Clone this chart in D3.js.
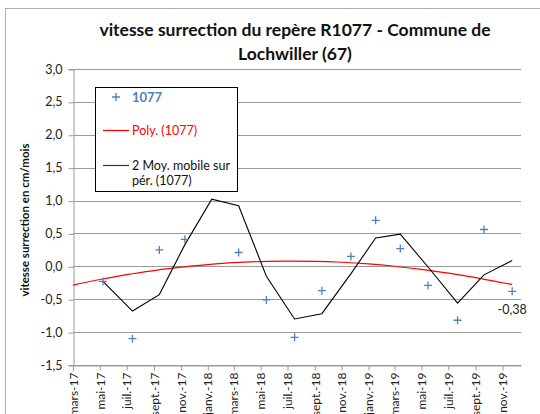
<!DOCTYPE html>
<html>
<head>
<meta charset="utf-8">
<script src="https://cdn.jsdelivr.net/npm/d3@7"></script>
<style>
  body { margin: 0; background: #fff; }
  text { font-family: Lato, "Open Sans", sans-serif; }
</style>
</head>
<body>
<script>
// dates of the survey points and their speed (cm/mois)
const pointDates = ["2017-05-08","2017-07-14","2017-09-13","2017-11-10","2018-01-10","2018-03-12","2018-05-14","2018-07-17",
  "2018-09-17","2018-11-22","2019-01-17","2019-03-14","2019-05-16","2019-07-22","2019-09-20","2019-11-23"];
const pointValues = [-0.23,-1.10,0.25,0.41,1.63,0.21,-0.51,-1.08,-0.37,0.15,0.70,0.27,-0.29,-0.82,0.56,-0.38];

// 2 periods moving average
const movingAvg = [-0.23,-0.68,-0.43,0.33,1.02,0.92,-0.15,-0.80,-0.72,-0.11,0.43,0.49,-0.01,-0.56,-0.13,0.09];

// polynomial trendline, read at each tick date
const polyDates = ["2017-03-01","2017-05-01","2017-07-01","2017-09-01","2017-11-01","2018-01-01","2018-03-01","2018-05-01",
  "2018-07-01","2018-09-01","2018-11-01","2019-01-01","2019-03-01","2019-05-01","2019-07-01","2019-09-01","2019-11-01","2019-11-23"];
const polyValues = [-0.285,-0.20,-0.125,-0.064,-0.013,0.026,0.056,0.073,0.08,0.076,0.062,0.037,0.001,-0.047,-0.104,-0.173,-0.25,-0.275];

const xTickDates = ["2017-03-01","2017-05-01","2017-07-01","2017-09-01","2017-11-01","2018-01-01","2018-03-01","2018-05-01",
  "2018-07-01","2018-09-01","2018-11-01","2019-01-01","2019-03-01","2019-05-01","2019-07-01","2019-09-01","2019-11-01"];
const xTickLabels = ["mars-17","mai-17","juil.-17","sept.-17","nov.-17","janv.-18","mars-18","mai-18",
  "juil.-18","sept.-18","nov.-18","janv.-19","mars-19","mai-19","juil.-19","sept.-19","nov.-19"];
const yTicks = [-1.5,-1.0,-0.5,0.0,0.5,1.0,1.5,2.0,2.5,3.0];

const parse = d3.timeParse("%Y-%m-%d");
const width = 540, height = 414;

let svg = d3.select("body").append("svg")
    .attr("width", width)
    .attr("height", height);

// chart area border
svg.append("rect")
    .attr("x", 5.5).attr("y", 8.5)
    .attr("width", 600).attr("height", 500)
    .attr("fill", "#fff").attr("stroke", "#b0b0b0");

const x = d3.scaleTime()
    .domain([parse("2017-03-01"), parse("2019-12-13")])
    .range([73, 521]);
const y = d3.scaleLinear()
    .domain([-1.5, 3])
    .range([365, 69]);

// french decimal comma, plain hyphen for the minus
const frFormat = d3.formatLocale({ decimal: ",", thousands: " ", grouping: [3], currency: ["", " €"], minus: "-" });
const fmt = frFormat.format(".1f");
const fmt2 = frFormat.format(".2f");

// gridlines
svg.append("g")
    .selectAll("line")
    .data(yTicks)
    .enter()
    .append("line")
        .attr("x1", 73).attr("x2", 521)
        .attr("y1", d => Math.round(y(d)) + 0.5)
        .attr("y2", d => Math.round(y(d)) + 0.5)
        .attr("stroke", "#9a9a9a");

// y axis
let yAxis = svg.append("g")
    .attr("transform", "translate(73.5,0)")
    .call(d3.axisLeft(y).tickValues(yTicks).tickFormat(fmt).tickSize(5).tickPadding(6));
yAxis.select(".domain").attr("stroke", "#9a9a9a");
yAxis.selectAll(".tick line").attr("stroke", "#9a9a9a")
    .attr("transform", "translate(0,0.5)");
yAxis.selectAll(".tick text").attr("font-size", 12.5).attr("fill", "#222");

// x axis
let xAxis = svg.append("g")
    .attr("transform", "translate(0,365.5)")
    .call(d3.axisBottom(x).tickValues(xTickDates.map(parse))
        .tickFormat((d, i) => xTickLabels[i]).tickSize(5).tickSizeOuter(0));
xAxis.select(".domain").attr("stroke", "#9a9a9a");
xAxis.selectAll(".tick line").attr("stroke", "#9a9a9a");
xAxis.selectAll(".tick text")
    .attr("font-size", 12).attr("fill", "#222")
    .attr("text-anchor", "end")
    .attr("transform", "rotate(-90)")
    .attr("x", -7).attr("y", 0).attr("dy", "0.35em");

// polynomial trendline
svg.append("path")
    .datum(polyDates.map((d, i) => [parse(d), polyValues[i]]))
    .attr("fill", "none")
    .attr("stroke", "#ff0000")
    .attr("stroke-width", 1.2)
    .attr("d", d3.line().x(d => x(d[0])).y(d => y(d[1])).curve(d3.curveMonotoneX));

// moving average
svg.append("path")
    .datum(pointDates.map((d, i) => [parse(d), movingAvg[i]]))
    .attr("fill", "none")
    .attr("stroke", "#000")
    .attr("stroke-width", 1.1)
    .attr("d", d3.line().x(d => x(d[0])).y(d => y(d[1])));

// plus markers
const plus = "M-4,0H4M0,-4V4";
svg.append("g")
    .selectAll("path")
    .data(pointDates.map((d, i) => [parse(d), pointValues[i]]))
    .enter()
    .append("path")
        .attr("transform", d => "translate(" + x(d[0]) + "," + y(d[1]) + ")")
        .attr("d", plus)
        .attr("stroke", "#4f81bd")
        .attr("stroke-width", 1.3)
        .attr("fill", "none");

// label on the last point
let last = pointValues.length - 1;
svg.append("text")
    .attr("x", x(parse(pointDates[last])))
    .attr("y", y(pointValues[last]) + 23)
    .attr("text-anchor", "middle")
    .attr("font-size", 12.5)
    .attr("fill", "#222")
    .text(fmt2(pointValues[last]));

// legend
let lg = svg.append("g");
lg.append("rect")
    .attr("x", 95.5).attr("y", 87.5)
    .attr("width", 142).attr("height", 104)
    .attr("fill", "#fff").attr("stroke", "#000");
lg.append("path")
    .attr("transform", "translate(116,97)")
    .attr("d", plus)
    .attr("stroke", "#4f81bd").attr("stroke-width", 1.3);
lg.append("text")
    .attr("x", 132).attr("y", 101.5)
    .attr("font-size", 13).attr("font-weight", "bold").attr("fill", "#4f81bd")
    .text("1077");
lg.append("line")
    .attr("x1", 103).attr("x2", 129).attr("y1", 130.5).attr("y2", 130.5)
    .attr("stroke", "#ff0000").attr("stroke-width", 1.2);
lg.append("text")
    .attr("x", 132).attr("y", 135)
    .attr("font-size", 12.5).attr("fill", "#ff0000")
    .text("Poly. (1077)");
lg.append("line")
    .attr("x1", 103).attr("x2", 129).attr("y1", 165.5).attr("y2", 165.5)
    .attr("stroke", "#333").attr("stroke-width", 1.2);
lg.append("text")
    .attr("x", 132).attr("y", 169.5)
    .attr("font-size", 12.5).attr("fill", "#111")
    .text("2 Moy. mobile sur");
lg.append("text")
    .attr("x", 132).attr("y", 184.5)
    .attr("font-size", 12.5).attr("fill", "#111")
    .text("pér. (1077)");

// title
const titleLines = ["vitesse surrection du repère R1077 - Commune de", "Lochwiller (67)"];
svg.append("g")
    .selectAll("text")
    .data(titleLines)
    .enter()
    .append("text")
        .attr("x", 295)
        .attr("y", (d, i) => 36 + i * 24)
        .attr("text-anchor", "middle")
        .attr("font-size", 17.5)
        .attr("font-weight", "bold")
        .attr("fill", "#111")
        .text(d => d);

// y axis title
svg.append("text")
    .attr("transform", "translate(25,220) rotate(-90)")
    .attr("text-anchor", "middle")
    .attr("dy", "0.35em")
    .attr("font-size", 11.5)
    .attr("font-weight", "bold")
    .attr("fill", "#111")
    .text("vitesse surrection en cm/mois");
</script>
</body>
</html>
